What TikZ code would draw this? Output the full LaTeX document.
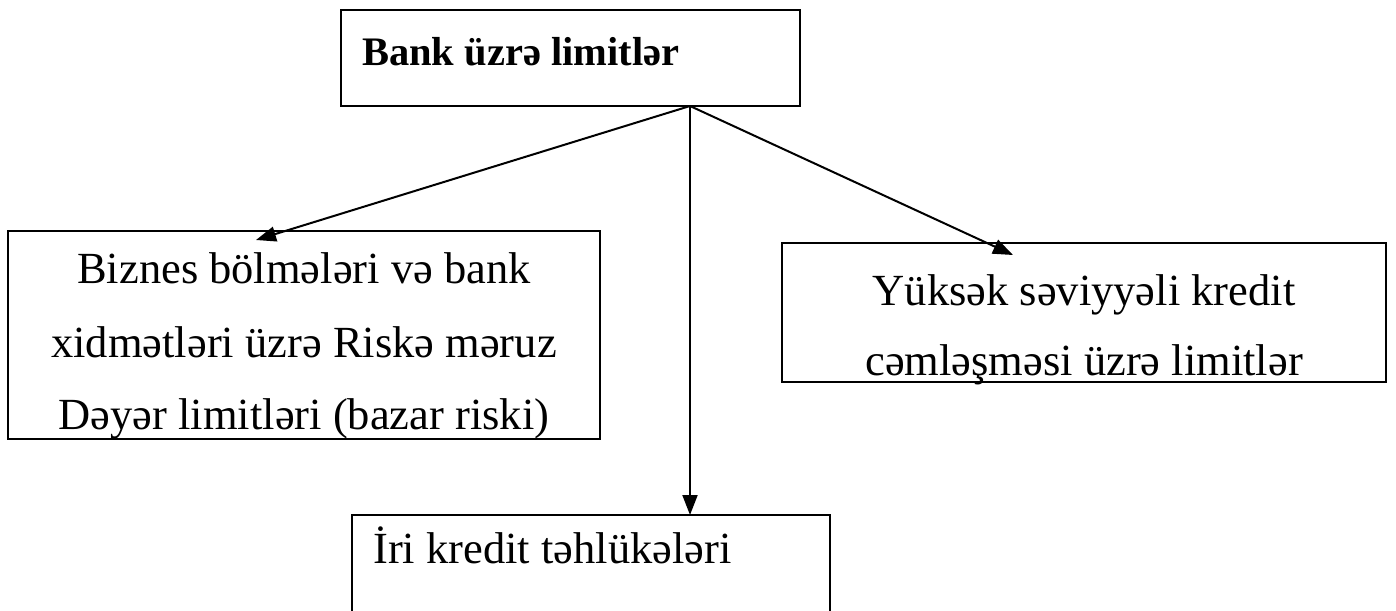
\documentclass[tikz,border=0pt]{standalone}
\usepackage{fontspec}
\setmainfont{Liberation Serif}
\usetikzlibrary{arrows.meta}
\begin{document}
\begin{tikzpicture}[x=1pt,y=-1pt,
  box/.style={draw, line width=2pt, inner sep=0pt, outer sep=0pt},
  conn/.style={line width=2pt, -{Triangle[length=20pt,width=15pt]}},
  txt/.style={font=\fontsize{44.5}{72}\selectfont, inner sep=0pt, anchor=base},
  txtl/.style={txt, anchor=base west}]
\useasboundingbox (0,0) rectangle (1396,610);
\clip (0,0) rectangle (1396,610);

% frames (pixel grid, y downwards)
\node[box, minimum width=459pt, minimum height=96pt]  (top)    at (570.5,58)  {};
\node[box, minimum width=592pt, minimum height=208pt] (left)   at (304,335)   {};
\node[box, minimum width=604pt, minimum height=139pt] (right)  at (1084,312.5){};
\node[box, minimum width=478pt, minimum height=185pt] (bottom) at (591,607.5) {};

% labels
\node[txtl, font=\fontsize{40.5}{50}\selectfont\bfseries] (ttop) at (362,65) {Bank üzrə limitlər};
\node[txt] (l1) at (304,283) {Biznes bölmələri və bank};
\node[txt] (l2) at (304,357) {xidmətləri üzrə Riskə məruz};
\node[txt] (l3) at (304,429) {Dəyər limitləri (bazar riski)};
\node[txt] (r1) at (1084,305) {Yüksək səviyyəli kredit};
\node[txt] (r2) at (1084,375) {cəmləşməsi üzrə limitlər};
\node[txtl] (b1) at (373,563) {İri kredit təhlükələri};

% connectors from the bottom edge of the top frame
\coordinate (src) at (690,106);
\coordinate (tipL) at (256,240);
\coordinate (tipR) at (1013,255);
\coordinate (tipB) at (690,515);
\draw[conn] (src) -- (tipL);
\draw[conn] (src) -- (tipR);
\draw[conn] (src) -- (tipB);
\end{tikzpicture}
\end{document}
